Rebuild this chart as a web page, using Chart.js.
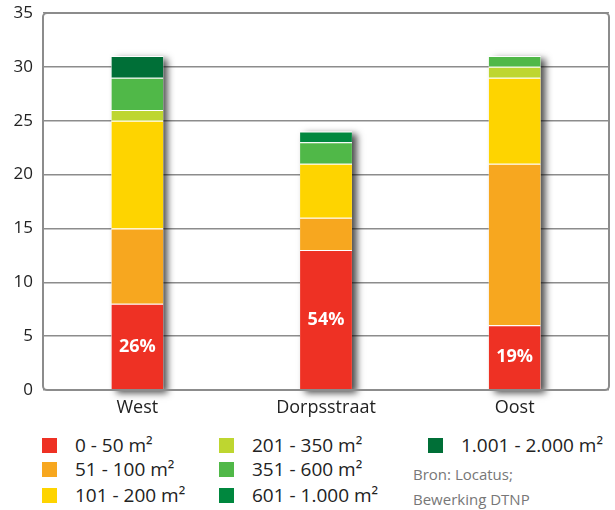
<!DOCTYPE html>
<html>
<head>
<meta charset="utf-8">
<script src="https://cdn.jsdelivr.net/npm/chart.js@4"></script>
<style>
  body { margin: 0; background: #fff; font-family: "Open Sans", sans-serif; }
  #wrap { position: relative; width: 615px; height: 510px; }
  #chart-box { position: absolute; left: 0; top: 0; width: 615px; height: 430px; }
  .leg { position: absolute; font-size: 19px; color: #222; line-height: 20px; white-space: nowrap; }
  .leg i { position: absolute; left: -33px; top: 3px; width: 15px; height: 15px; }
  .src { position: absolute; font-size: 15px; color: #777; white-space: nowrap; }
</style>
</head>
<body>
<div id="wrap">
  <div id="chart-box"><canvas id="myChart"></canvas></div>
  <div id="legend"></div>
  <div class="src" style="left:413px; top:464px;">Bron: Locatus;</div>
  <div class="src" style="left:413px; top:489px;">Bewerking DTNP</div>
</div>
<script>
const areas = ['West', 'Dorpsstraat', 'Oost'];
const sizeClasses = ['0 - 50 m²', '51 - 100 m²', '101 - 200 m²', '201 - 350 m²', '351 - 600 m²', '601 - 1.000 m²', '1.001 - 2.000 m²'];
const v0to50 = [8, 13, 6];
const v51to100 = [7, 3, 15];
const v101to200 = [10, 5, 8];
const v201to350 = [1, 0, 1];
const v351to600 = [3, 2, 1];
const v601to1000 = [0, 1, 0];
const v1001to2000 = [2, 0, 0];
const yTicks = [0, 5, 10, 15, 20, 25, 30, 35];

const seriesValues = [v0to50, v51to100, v101to200, v201to350, v351to600, v601to1000, v1001to2000];
const colors = ['#ee3124', '#f7a71f', '#fed400', '#bed630', '#50b848', '#00873e', '#006f37'];

// legend, three columns
const legendPos = [
    [75, 435], [75, 459], [75, 485],
    [252, 435], [252, 459], [252, 485],
    [461, 435]
];
const legendBox = document.getElementById('legend');
sizeClasses.forEach((label, i) => {
    const d = document.createElement('div');
    d.className = 'leg';
    d.style.left = legendPos[i][0] + 'px';
    d.style.top = legendPos[i][1] + 'px';
    d.innerHTML = '<i style="background:' + colors[i] + '"></i>' + label;
    legendBox.append(d);
});

const totals = areas.map((a, i) => seriesValues.reduce((s, arr) => s + arr[i], 0));

// drop shadow behind each full stack, then the percent labels
const stackShadow = {
    id: 'stackShadow',
    beforeDatasetsDraw(chart) {
        const ctx = chart.ctx;
        const yScale = chart.scales.y;
        const meta = chart.getDatasetMeta(0);
        ctx.save();
        ctx.shadowColor = 'rgba(0,0,0,0.7)';
        ctx.shadowBlur = 7;
        ctx.shadowOffsetX = 5;
        ctx.shadowOffsetY = 3;
        ctx.fillStyle = '#fff';
        meta.data.forEach((bar, i) => {
            const top = yScale.getPixelForValue(totals[i]);
            const bottom = yScale.getPixelForValue(0);
            ctx.fillRect(bar.x - bar.width / 2, top, bar.width, bottom - top);
        });
        ctx.restore();
    },
    afterDatasetsDraw(chart) {
        const ctx = chart.ctx;
        const meta = chart.getDatasetMeta(0);
        ctx.save();
        ctx.fillStyle = '#fff';
        ctx.font = 'bold 18px "Open Sans", sans-serif';
        ctx.textAlign = 'center';
        ctx.textBaseline = 'middle';
        meta.data.forEach((bar, i) => {
            const pct = Math.round(v0to50[i] / totals[i] * 100) + '%';
            ctx.fillText(pct, bar.x, (bar.y + bar.base) / 2);
        });
        ctx.restore();
    }
};

// rounded grey frame round the plot area
const plotFrame = {
    id: 'plotFrame',
    afterDraw(chart) {
        const a = chart.chartArea;
        const ctx = chart.ctx;
        ctx.save();
        ctx.strokeStyle = '#8c8c8c';
        ctx.lineWidth = 2;
        ctx.beginPath();
        ctx.roundRect(a.left, a.top, a.right - a.left, a.bottom - a.top, 4);
        ctx.stroke();
        ctx.restore();
    }
};

const ctx = document.getElementById('myChart').getContext('2d');

const myChart = new Chart(ctx, { //eslint-disable-line
    type: 'bar',
    data: {
        labels: areas,
        datasets: seriesValues.map((vals, i) => ({
            label: sizeClasses[i],
            data: vals,
            backgroundColor: colors[i],
            borderColor: 'rgba(255,255,255,0.75)',
            borderWidth: { top: 1, left: 0, right: 0, bottom: 0 },
            borderSkipped: false,
            barPercentage: 0.275,
            categoryPercentage: 1
        }))
    },
    options: {
        responsive: true,
        maintainAspectRatio: false,
        animation: false,
        layout: { padding: { top: 13, right: 6, left: 0, bottom: 0 } },
        plugins: {
            legend: { display: false },
            tooltip: { enabled: false }
        },
        scales: {
            x: {
                stacked: true,
                grid: { display: false, drawTicks: false },
                border: { display: false },
                ticks: {
                    color: '#222',
                    padding: 7,
                    font: { family: '"Open Sans", sans-serif', size: 18 }
                },
                afterFit(scale) { scale.height = 40; }
            },
            y: {
                stacked: true,
                min: 0,
                max: 35,
                afterBuildTicks(scale) { scale.ticks = yTicks.map(v => ({ value: v })); },
                grid: { color: '#8c8c8c', lineWidth: 1.5, drawTicks: false },
                border: { display: false },
                ticks: {
                    color: '#222',
                    padding: 10,
                    font: { family: '"Open Sans", sans-serif', size: 17 }
                },
                afterFit(scale) {
                    scale.width = 43;
                    scale.paddingTop = 0;
                    scale.paddingBottom = 0;
                }
            }
        }
    },
    plugins: [stackShadow, plotFrame]
});
</script>
</body>
</html>
